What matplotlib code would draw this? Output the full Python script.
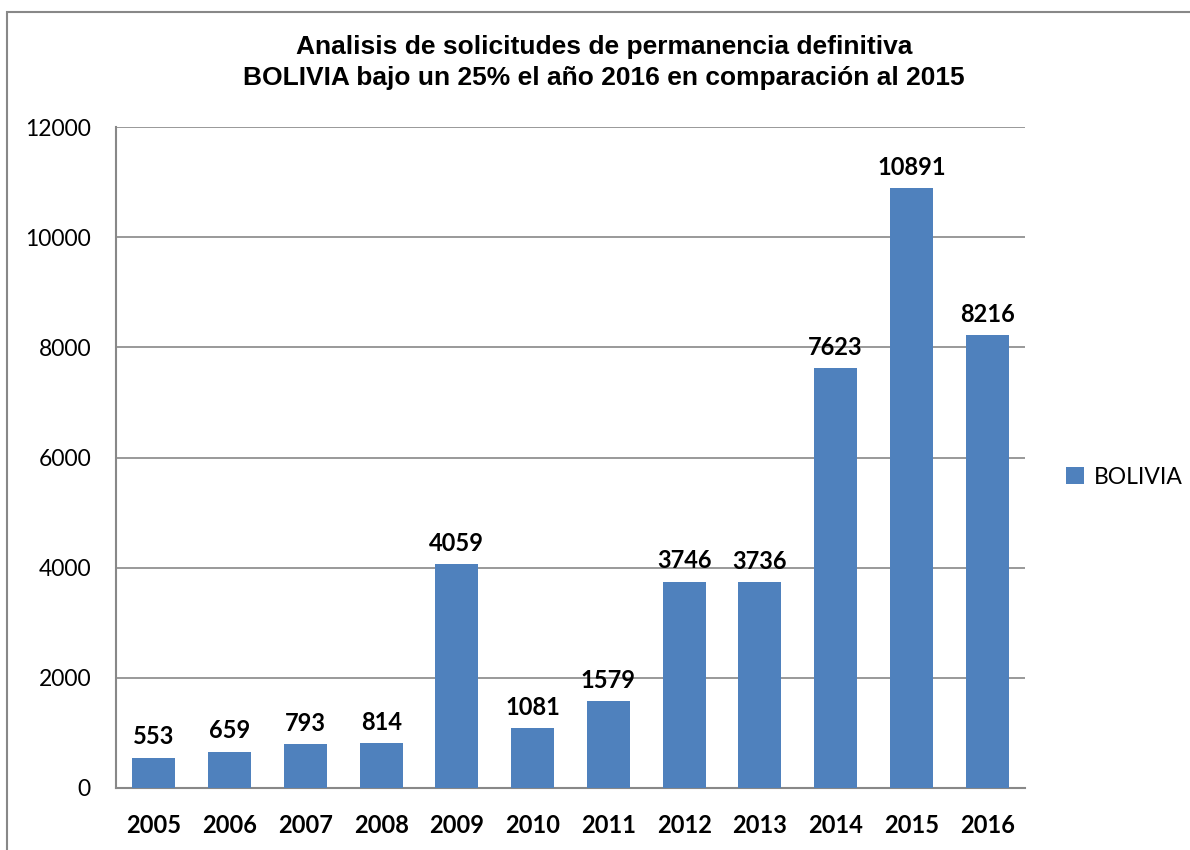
import matplotlib.pyplot as plt
from matplotlib.patches import Rectangle

years = ["2005", "2006", "2007", "2008", "2009", "2010",
         "2011", "2012", "2013", "2014", "2015", "2016"]
values = [553, 659, 793, 814, 4059, 1081, 1579, 3746, 3736, 7623, 10891, 8216]
yticks = [0, 2000, 4000, 6000, 8000, 10000, 12000]

blue = "#4F81BD"
lab_font = ["Lato", "DejaVu Sans"]

fig = plt.figure(figsize=(11.9, 8.5), dpi=100)
# plot area in pixels: left 116, right 1025, top 127, bottom 788
ax = fig.add_axes([116 / 1190, 1 - 788 / 850, (1025 - 116) / 1190, (788 - 127) / 850])

x = list(range(len(years)))
bars = ax.bar(x, values, width=0.57, color=blue, zorder=3, label="BOLIVIA")

for xi, v in zip(x, values):
    ax.text(xi, v + 170, str(v), ha="center", va="bottom", fontsize=17,
            fontweight="bold", family=lab_font)

ax.set_xlim(-0.5, len(years) - 0.5)
ax.set_ylim(0, 12000)
ax.set_yticks(yticks)
ax.set_yticklabels([str(t) for t in yticks], family=lab_font, fontsize=16.5)
ax.set_xticks(x)
ax.set_xticklabels(years, family=lab_font, fontsize=17, fontweight="bold")
ax.tick_params(axis="y", length=0, pad=18)
ax.tick_params(axis="x", length=0, pad=19)
ax.grid(axis="y", color="#888888", linewidth=1.2, zorder=0)
for s in ["top", "right"]:
    ax.spines[s].set_visible(False)
for s in ["left", "bottom"]:
    ax.spines[s].set_color("#888888")
    ax.spines[s].set_linewidth(1.5)

fig.text(604 / 1190, 1 - 47 / 850,
         "Analisis de solicitudes de permanencia definitiva", ha="center",
         va="center", fontsize=19, fontweight="bold", family="Liberation Sans")
fig.text(604 / 1190, 1 - 78 / 850,
         "BOLIVIA bajo un 25% el año 2016 en comparación al 2015", ha="center",
         va="center", fontsize=19, fontweight="bold", family="Liberation Sans")

leg = fig.legend(handles=[bars], labels=["BOLIVIA"], loc="center left",
                 bbox_to_anchor=(1045 / 1190, 1 - 477 / 850), frameon=False,
                 prop={"family": lab_font, "size": 16.5}, handlelength=0.8,
                 handleheight=0.8, handletextpad=0.45)

# outer chart border
fig.patches.append(Rectangle((7 / 1190, -0.1), 1.2, 1 - 12 / 850 + 0.1,
                             transform=fig.transFigure, fill=False,
                             edgecolor="#888888", linewidth=1.5))

plt.savefig("out.png", dpi=100)
